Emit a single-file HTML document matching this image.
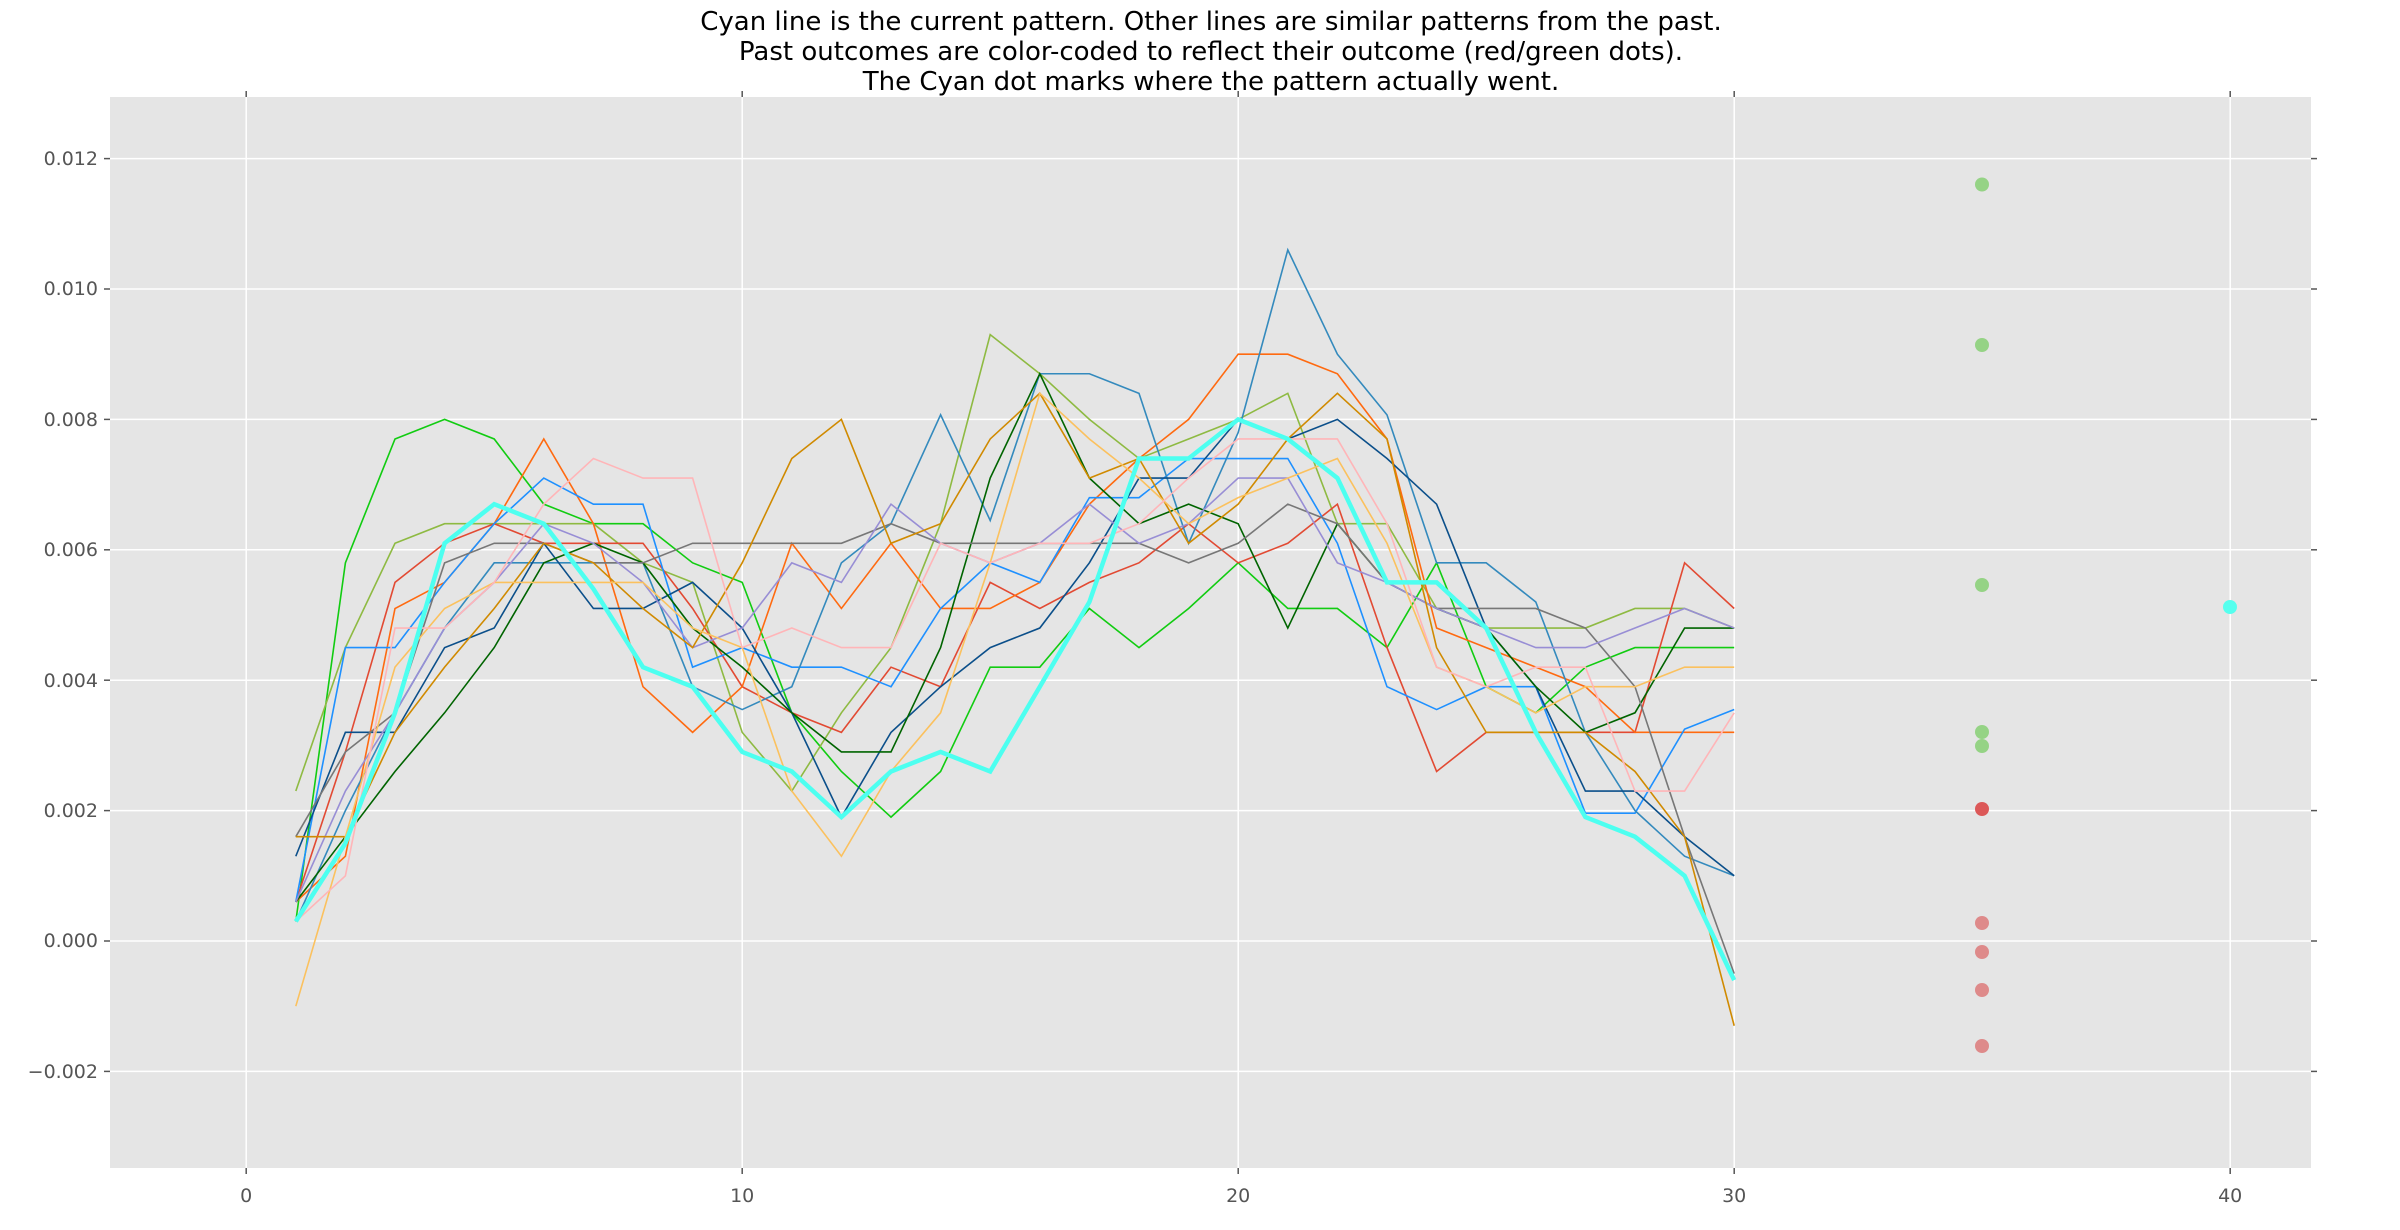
<!DOCTYPE html>
<html><head><meta charset="utf-8"><style>
html,body{margin:0;padding:0;background:#fff;}
svg{display:block;}
text{font-family:"DejaVu Sans","Liberation Sans",sans-serif;}
</style></head><body>
<svg width="2400" height="1230" viewBox="0 0 2400 1230" xmlns="http://www.w3.org/2000/svg">
<rect x="0" y="0" width="2400" height="1230" fill="#fff"/>
<text x="1211" y="30" font-size="26" text-anchor="middle" fill="#000">Cyan line is the current pattern. Other lines are similar patterns from the past.</text>
<text x="1211" y="60" font-size="26" text-anchor="middle" fill="#000">Past outcomes are color-coded to reflect their outcome (red/green dots).</text>
<text x="1211" y="90" font-size="26" text-anchor="middle" fill="#000">The Cyan dot marks where the pattern actually went.</text>
<rect x="110" y="97" width="2201" height="1071" fill="#e5e5e5"/>
<g stroke="#fff" stroke-width="1.5">
<line x1="246.2" y1="97" x2="246.2" y2="1168"/>
<line x1="742.2" y1="97" x2="742.2" y2="1168"/>
<line x1="1238.2" y1="97" x2="1238.2" y2="1168"/>
<line x1="1734.2" y1="97" x2="1734.2" y2="1168"/>
<line x1="2230.2" y1="97" x2="2230.2" y2="1168"/>
<line x1="110" y1="158.6" x2="2311" y2="158.6"/>
<line x1="110" y1="289" x2="2311" y2="289"/>
<line x1="110" y1="419.4" x2="2311" y2="419.4"/>
<line x1="110" y1="549.8" x2="2311" y2="549.8"/>
<line x1="110" y1="680.2" x2="2311" y2="680.2"/>
<line x1="110" y1="810.6" x2="2311" y2="810.6"/>
<line x1="110" y1="941" x2="2311" y2="941"/>
<line x1="110" y1="1071.4" x2="2311" y2="1071.4"/>
</g>
<g stroke="#555" stroke-width="1.5">
<line x1="246.2" y1="91" x2="246.2" y2="97"/><line x1="742.2" y1="91" x2="742.2" y2="97"/><line x1="1238.2" y1="91" x2="1238.2" y2="97"/><line x1="1734.2" y1="91" x2="1734.2" y2="97"/><line x1="2230.2" y1="91" x2="2230.2" y2="97"/>
<line x1="246.2" y1="1168" x2="246.2" y2="1174"/><line x1="742.2" y1="1168" x2="742.2" y2="1174"/><line x1="1238.2" y1="1168" x2="1238.2" y2="1174"/><line x1="1734.2" y1="1168" x2="1734.2" y2="1174"/><line x1="2230.2" y1="1168" x2="2230.2" y2="1174"/>
<line x1="104" y1="158.6" x2="110" y2="158.6"/><line x1="104" y1="289" x2="110" y2="289"/><line x1="104" y1="419.4" x2="110" y2="419.4"/><line x1="104" y1="549.8" x2="110" y2="549.8"/><line x1="104" y1="680.2" x2="110" y2="680.2"/><line x1="104" y1="810.6" x2="110" y2="810.6"/><line x1="104" y1="941" x2="110" y2="941"/><line x1="104" y1="1071.4" x2="110" y2="1071.4"/>
<line x1="2311" y1="158.6" x2="2317" y2="158.6"/><line x1="2311" y1="289" x2="2317" y2="289"/><line x1="2311" y1="419.4" x2="2317" y2="419.4"/><line x1="2311" y1="549.8" x2="2317" y2="549.8"/><line x1="2311" y1="680.2" x2="2317" y2="680.2"/><line x1="2311" y1="810.6" x2="2317" y2="810.6"/><line x1="2311" y1="941" x2="2317" y2="941"/><line x1="2311" y1="1071.4" x2="2317" y2="1071.4"/>
</g>
<g font-size="19" fill="#555" text-anchor="end">
<text x="98" y="165">0.012</text><text x="98" y="295">0.010</text><text x="98" y="426">0.008</text><text x="98" y="556">0.006</text><text x="98" y="687">0.004</text><text x="98" y="817">0.002</text><text x="98" y="947">0.000</text><text x="98" y="1078">−0.002</text>
</g>
<g font-size="19" fill="#555" text-anchor="middle">
<text x="246.2" y="1202">0</text><text x="742.2" y="1202">10</text><text x="1238.2" y="1202">20</text><text x="1734.2" y="1202">30</text><text x="2230.2" y="1202">40</text>
</g>
<g transform="translate(246.2,941) scale(49.6,-65.2)" fill="none" stroke-width="1.6" stroke-linejoin="miter">
<polyline vector-effect="non-scaling-stroke" stroke="#11cc11" points="1,0.3 2,5.8 3,7.7 4,8.0 5,7.7 6,6.7 7,6.4 8,6.4 9,5.8 10,5.5 11,3.5 12,2.6 13,1.9 14,2.6 15,4.2 16,4.2 17,5.1 18,4.5 19,5.1 20,5.8 21,5.1 22,5.1 23,4.5 24,5.8 25,3.9 26,3.5 27,4.2 28,4.5 29,4.5 30,4.5"/>
<polyline vector-effect="non-scaling-stroke" stroke="#8eba42" points="1,2.3 2,4.5 3,6.1 4,6.4 5,6.4 6,6.4 7,6.4 8,5.8 9,5.5 10,3.2 11,2.3 12,3.5 13,4.5 14,6.4 15,9.3 16,8.7 17,8.0 18,7.4 19,7.7 20,8.0 21,8.4 22,6.4 23,6.4 24,5.1 25,4.8 26,4.8 27,4.8 28,5.1 29,5.1 30,4.8"/>
<polyline vector-effect="non-scaling-stroke" stroke="#e24a33" points="1,0.6 2,2.9 3,5.5 4,6.1 5,6.4 6,6.1 7,6.1 8,6.1 9,5.1 10,3.9 11,3.5 12,3.2 13,4.2 14,3.9 15,5.5 16,5.1 17,5.5 18,5.8 19,6.4 20,5.8 21,6.1 22,6.7 23,4.5 24,2.6 25,3.2 26,3.2 27,3.2 28,3.2 29,5.8 30,5.1"/>
<polyline vector-effect="non-scaling-stroke" stroke="#ff6a10" points="1,0.6 2,1.3 3,5.1 4,5.5 5,6.4 6,7.7 7,6.4 8,3.9 9,3.2 10,3.9 11,6.1 12,5.1 13,6.1 14,5.1 15,5.1 16,5.5 17,6.7 18,7.4 19,8.0 20,9.0 21,9.0 22,8.7 23,7.7 24,4.8 25,4.5 26,4.2 27,3.9 28,3.2 29,3.2 30,3.2"/>
<polyline vector-effect="non-scaling-stroke" stroke="#1e90ff" points="1,0.6 2,4.5 3,4.5 4,5.5 5,6.4 6,7.1 7,6.7 8,6.7 9,4.2 10,4.5 11,4.2 12,4.2 13,3.9 14,5.1 15,5.8 16,5.5 17,6.8 18,6.8 19,7.4 20,7.4 21,7.4 22,6.1 23,3.9 24,3.55 25,3.9 26,3.9 27,1.96 28,1.96 29,3.25 30,3.55"/>
<polyline vector-effect="non-scaling-stroke" stroke="#348abd" points="1,0.3 2,2.0 3,3.5 4,4.8 5,5.8 6,5.8 7,5.8 8,5.8 9,3.9 10,3.55 11,3.9 12,5.8 13,6.4 14,8.07 15,6.45 16,8.7 17,8.7 18,8.4 19,6.1 20,7.8 21,10.6 22,9.0 23,8.07 24,5.8 25,5.8 26,5.2 27,3.2 28,2.0 29,1.3 30,1.0"/>
<polyline vector-effect="non-scaling-stroke" stroke="#0b4f8a" points="1,1.3 2,3.2 3,3.2 4,4.5 5,4.8 6,6.1 7,5.1 8,5.1 9,5.5 10,4.8 11,3.5 12,1.9 13,3.2 14,3.9 15,4.5 16,4.8 17,5.8 18,7.1 19,7.1 20,8.0 21,7.7 22,8.0 23,7.4 24,6.7 25,4.8 26,3.9 27,2.3 28,2.3 29,1.6 30,1.0"/>
<polyline vector-effect="non-scaling-stroke" stroke="#006400" points="1,0.6 2,1.6 3,2.6 4,3.5 5,4.5 6,5.8 7,6.1 8,5.8 9,4.8 10,4.2 11,3.5 12,2.9 13,2.9 14,4.5 15,7.1 16,8.7 17,7.1 18,6.4 19,6.7 20,6.4 21,4.8 22,6.4 23,5.5 24,5.1 25,4.8 26,3.9 27,3.2 28,3.5 29,4.8 30,4.8"/>
<polyline vector-effect="non-scaling-stroke" stroke="#777777" points="1,1.6 2,2.9 3,3.5 4,5.8 5,6.1 6,6.1 7,5.8 8,5.8 9,6.1 10,6.1 11,6.1 12,6.1 13,6.4 14,6.1 15,6.1 16,6.1 17,6.1 18,6.1 19,5.8 20,6.1 21,6.7 22,6.4 23,5.5 24,5.1 25,5.1 26,5.1 27,4.8 28,3.9 29,1.6 30,-0.5"/>
<polyline vector-effect="non-scaling-stroke" stroke="#988ed5" points="1,0.6 2,2.3 3,3.5 4,4.8 5,5.5 6,6.4 7,6.1 8,5.5 9,4.5 10,4.8 11,5.8 12,5.5 13,6.7 14,6.1 15,5.8 16,6.1 17,6.7 18,6.1 19,6.4 20,7.1 21,7.1 22,5.8 23,5.5 24,5.1 25,4.8 26,4.5 27,4.5 28,4.8 29,5.1 30,4.8"/>
<polyline vector-effect="non-scaling-stroke" stroke="#d08a00" points="1,1.6 2,1.6 3,3.2 4,4.2 5,5.1 6,6.1 7,5.8 8,5.1 9,4.5 10,5.8 11,7.4 12,8.0 13,6.1 14,6.4 15,7.7 16,8.4 17,7.1 18,7.4 19,6.1 20,6.7 21,7.7 22,8.4 23,7.7 24,4.5 25,3.2 26,3.2 27,3.2 28,2.6 29,1.6 30,-1.3"/>
<polyline vector-effect="non-scaling-stroke" stroke="#fbc15e" points="1,-1.0 2,1.6 3,4.2 4,5.1 5,5.5 6,5.5 7,5.5 8,5.5 9,4.8 10,4.5 11,2.3 12,1.3 13,2.6 14,3.5 15,5.8 16,8.4 17,7.7 18,7.1 19,6.4 20,6.8 21,7.1 22,7.4 23,6.1 24,4.2 25,3.9 26,3.5 27,3.9 28,3.9 29,4.2 30,4.2"/>
<polyline vector-effect="non-scaling-stroke" stroke="#ffb5b8" points="1,0.3 2,1.0 3,4.8 4,4.8 5,5.5 6,6.7 7,7.4 8,7.1 9,7.1 10,4.5 11,4.8 12,4.5 13,4.5 14,6.1 15,5.8 16,6.1 17,6.1 18,6.4 19,7.1 20,7.7 21,7.7 22,7.7 23,6.4 24,4.2 25,3.9 26,4.2 27,4.2 28,2.3 29,2.3 30,3.5"/>
<polyline vector-effect="non-scaling-stroke" stroke="#4dfff0" stroke-width="4.5" points="1,0.3 2,1.5 3,3.5 4,6.1 5,6.7 6,6.4 7,5.4 8,4.2 9,3.9 10,2.9 11,2.6 12,1.9 13,2.6 14,2.9 15,2.6 16,3.9 17,5.2 18,7.4 19,7.4 20,8.0 21,7.7 22,7.1 23,5.5 24,5.5 25,4.8 26,3.2 27,1.9 28,1.6 29,1.0 30,-0.6"/>
</g>
<g>
<ellipse cx="1982" cy="184.5" rx="7" ry="7" fill="#95d385"/>
<ellipse cx="1982" cy="345" rx="7" ry="7" fill="#95d385"/>
<ellipse cx="1982" cy="585" rx="7" ry="7" fill="#95d385"/>
<ellipse cx="1982" cy="732" rx="7" ry="7" fill="#95d385"/>
<ellipse cx="1982" cy="746" rx="7" ry="7" fill="#95d385"/>
<ellipse cx="1982" cy="809" rx="7" ry="7" fill="#dc5858"/>
<ellipse cx="1982" cy="923" rx="7" ry="7" fill="#de8a8a"/>
<ellipse cx="1982" cy="952" rx="7" ry="7" fill="#de8a8a"/>
<ellipse cx="1982" cy="990" rx="7" ry="7" fill="#de8a8a"/>
<ellipse cx="1982" cy="1046" rx="7" ry="7" fill="#de8a8a"/>
<ellipse cx="2230" cy="607" rx="7" ry="7" fill="#55ffee"/>
</g>
</svg>
</body></html>
